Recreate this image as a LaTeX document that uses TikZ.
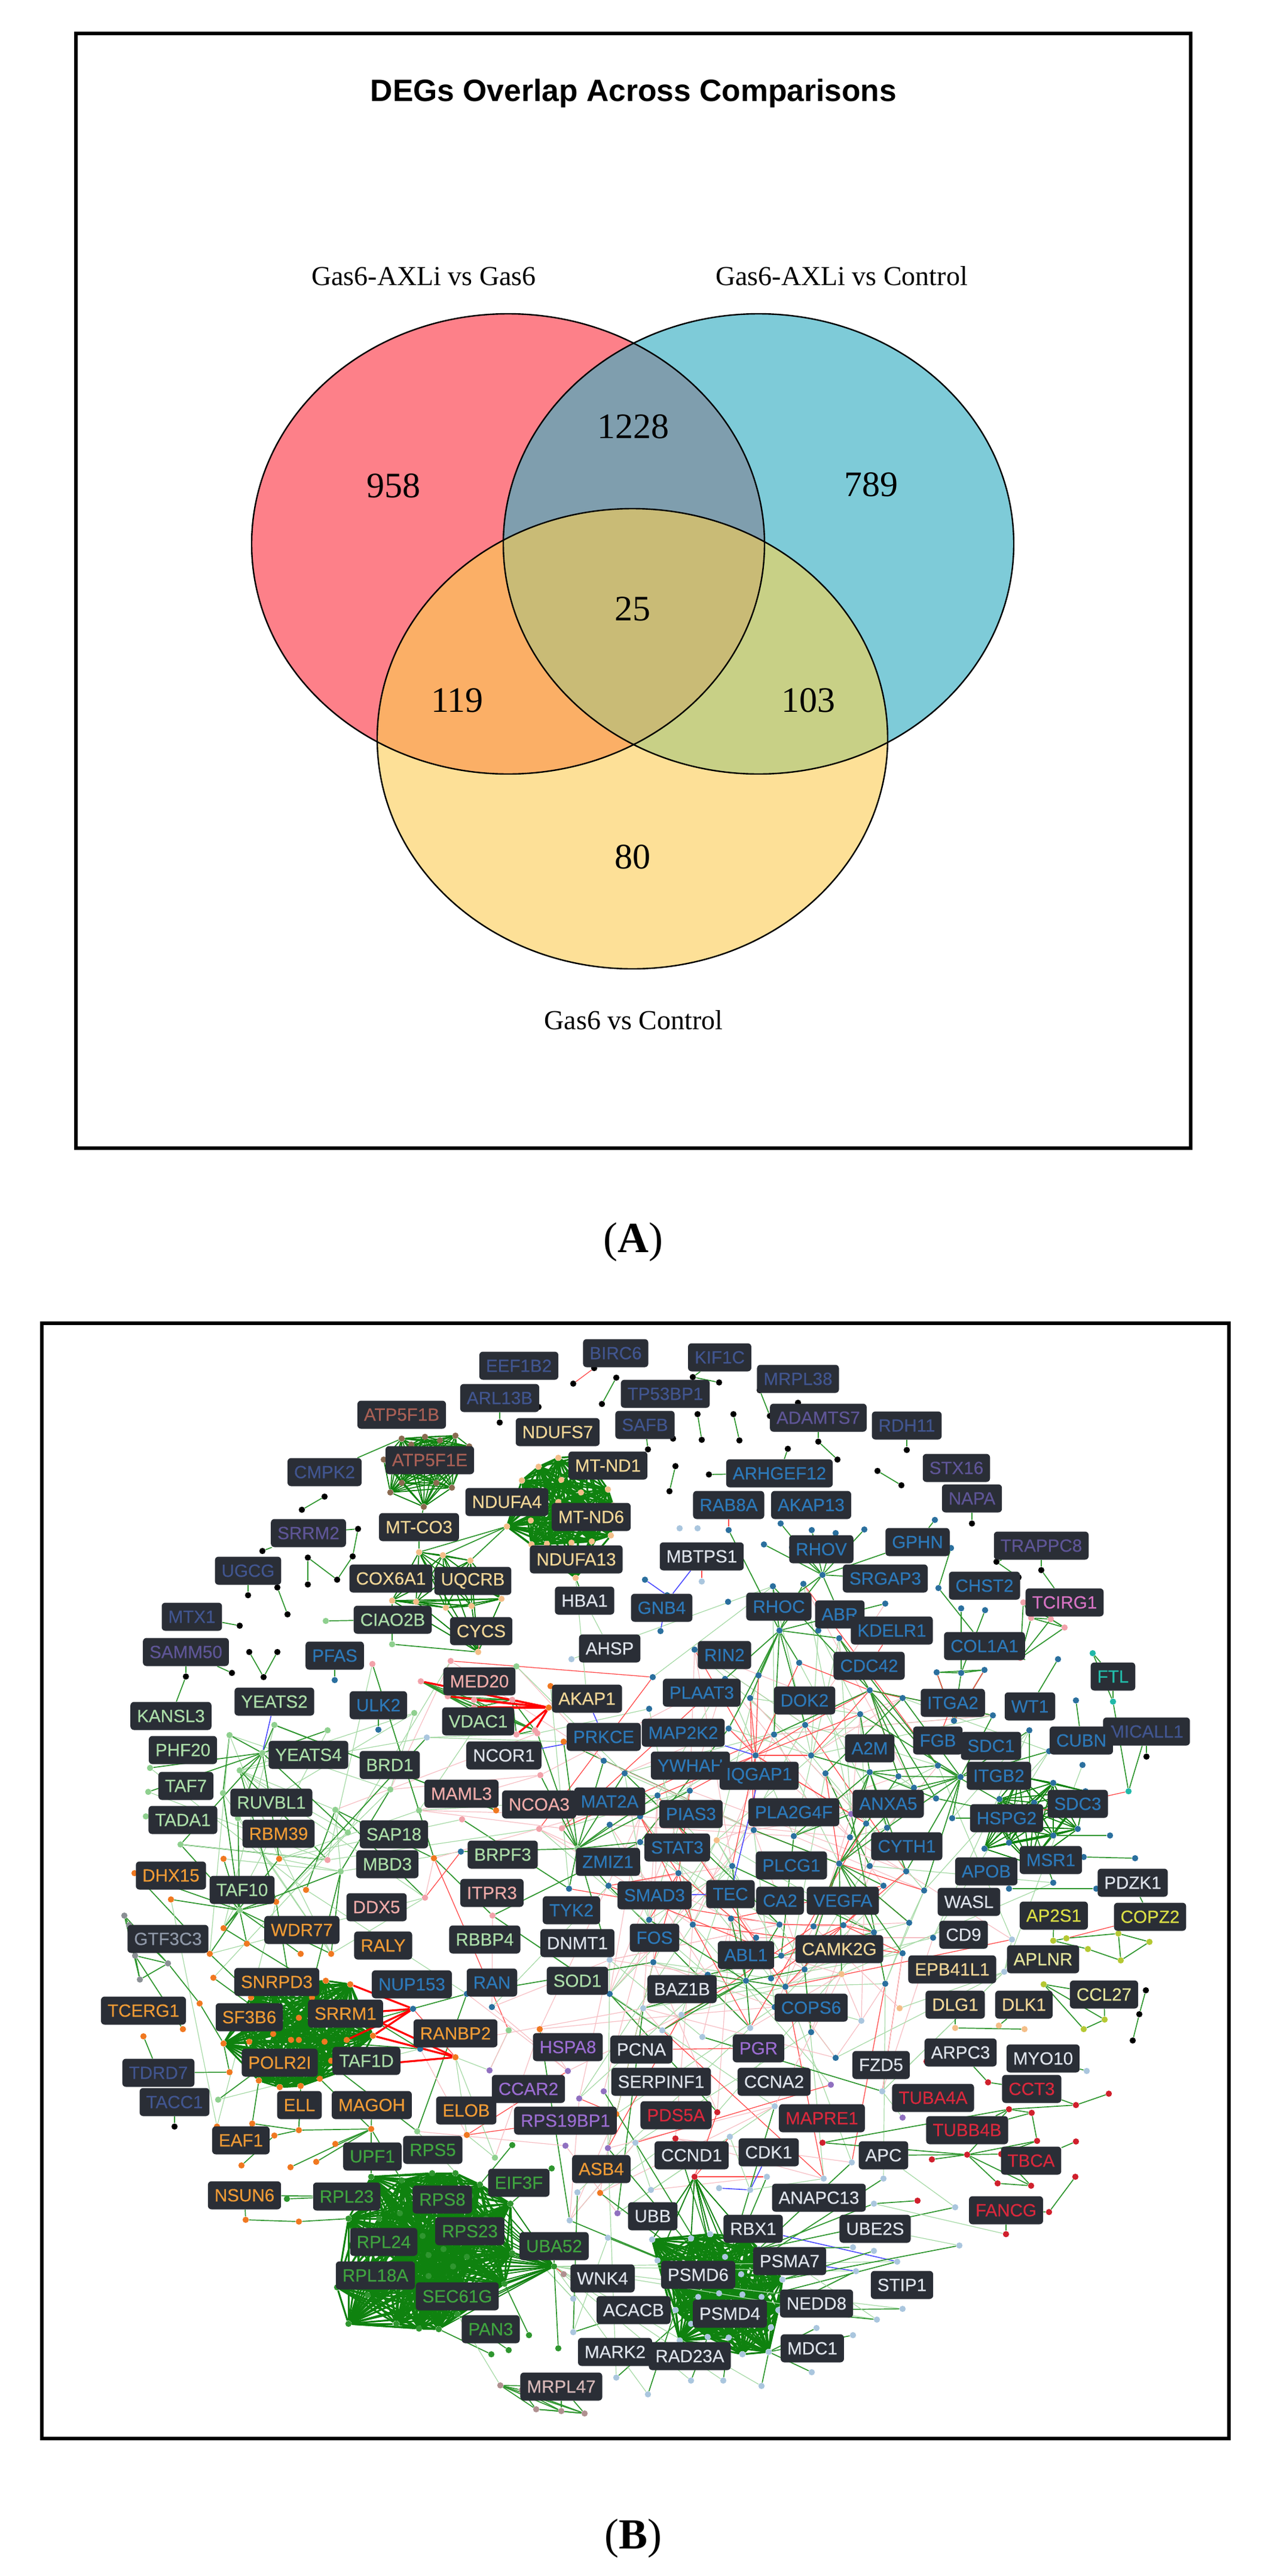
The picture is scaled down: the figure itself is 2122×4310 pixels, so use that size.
\documentclass[tikz,border=0pt]{standalone}
\usepackage{fontspec}
\setmainfont{Liberation Serif}
\newfontfamily\genef{Liberation Sans}
\newfontfamily\genelab[FakeBold=0.35]{Liberation Sans}
\pgfdeclarelayer{edges}
\pgfsetlayers{edges,main}
\definecolor{vR}{HTML}{FD8089}\definecolor{vB}{HTML}{7ECBD8}\definecolor{vY}{HTML}{FDE097}
\definecolor{vRB}{HTML}{7F9EAE}\definecolor{vRY}{HTML}{FBAF66}\definecolor{vBY}{HTML}{C8D086}\definecolor{vA}{HTML}{C9BB76}
\definecolor{box}{HTML}{2A2E36}
\definecolor{cS}{HTML}{41558F}\definecolor{cV}{HTML}{5E5596}\definecolor{cB}{HTML}{2C78B8}
\definecolor{cG}{HTML}{ABDDA8}\definecolor{cD}{HTML}{3FA33F}\definecolor{cO}{HTML}{EE9A35}
\definecolor{cT}{HTML}{F0D596}\definecolor{cP}{HTML}{EDAAA8}\definecolor{cU}{HTML}{9A6CD0}
\definecolor{cR}{HTML}{D8283C}\definecolor{cW}{HTML}{DDE2EA}\definecolor{cY}{HTML}{D9DD45}
\definecolor{cL}{HTML}{E4E49A}\definecolor{cM}{HTML}{A85F55}\definecolor{cE}{HTML}{22BDAA}
\definecolor{cF}{HTML}{D873C4}\definecolor{cQ}{HTML}{8F98A8}\definecolor{cK}{HTML}{D7B8B8}
\definecolor{dBl}{HTML}{2A6F9E}\definecolor{dLb}{HTML}{AAC6DE}\definecolor{dOr}{HTML}{F07820}
\definecolor{dPk}{HTML}{F2A2AA}\definecolor{dLg}{HTML}{8FD08F}\definecolor{dDg}{HTML}{2F962F}
\definecolor{dRd}{HTML}{D0202C}\definecolor{dPu}{HTML}{9070C0}\definecolor{dPe}{HTML}{F4BE88}
\definecolor{dBr}{HTML}{8A6A50}\definecolor{dGy}{HTML}{8A8F94}\definecolor{dYe}{HTML}{B5C832}
\definecolor{dTe}{HTML}{20B8A8}\definecolor{dRo}{HTML}{B09090}
\definecolor{dens}{HTML}{0F820F}
\tikzset{
  lab/.style={fill=box,rounded corners=3pt,inner xsep=5.5pt,inner ysep=0pt,minimum height=23.5pt,font=\genelab\fontsize{14.8}{16}\selectfont},
  dotn/.style={circle,inner sep=0pt,minimum size=5.2pt,draw=none},
  eg/.style={draw=dDg,line width=.85pt},
  el/.style={draw=dLg!80!white,line width=.6pt},
  ep/.style={draw=dPk!70!white,line width=.6pt},
  er/.style={draw=red!70!white,line width=.65pt},
  eb/.style={draw=blue!70!white,line width=.8pt},
  ec/.style={draw=dens,line width=.9pt},
  es/.style={draw=dens,line width=1.5pt},
  ew/.style={draw=red,line width=1.6pt},
  vtxt/.style={inner sep=0pt}
}
\def\gx#1#2{\the\numexpr #1+#2*1000/1568\relax}
\newcount\meshn \meshn=0
\newcommand\labels[3]{\foreach \t/\x/\y/\c in {#3}{\node[lab,text=\c] (\t) at (\gx{#1}{\x},\gx{#2}{\y}) {\t};}}
\newcommand\named[4]{\foreach \n/\x/\y in {#4}{\node[dotn,fill=#3] (\n) at (\gx{#1}{\x},\gx{#2}{\y}) {};}}
\newcommand\addm[5]{\global\advance\meshn 1
  \expandafter\xdef\csname mx\the\meshn\endcsname{\gx{#1}{#3}}%
  \expandafter\xdef\csname my\the\meshn\endcsname{\gx{#2}{#4}}%
  \node[dotn,fill=#5] (m\the\meshn) at (\csname mx\the\meshn\endcsname,\csname my\the\meshn\endcsname) {};}
\newcommand\mesh[4]{\foreach \x/\y in {#4}{\addm{#1}{#2}{\x}{\y}{#3}}}
\newcommand\hub[6]{\node[dotn,fill=#6] (#1) at (\gx{#2}{#4},\gx{#3}{#5}) {};
  \expandafter\xdef\csname hx#1\endcsname{\gx{#2}{#4}}\expandafter\xdef\csname hy#1\endcsname{\gx{#3}{#5}}}
\newcommand\cluster[5]{\foreach[count=\i] \x/\y in {#5}{\node[dotn,fill=#3] (#4\i) at (\gx{#1}{\x},\gx{#2}{\y}) {};}}
\newcommand\clique[3]{\foreach \a in {1,...,#2}{\foreach \b in {1,...,#2}{\ifnum\a<\b\relax\draw[#3] (#1\a) -- (#1\b);\fi}}}
\newcommand\fan[4]{\foreach \i in {1,...,\the\meshn}{%
  \ifnum\numexpr(\csname mx\i\endcsname-\csname hx#1\endcsname)*(\csname mx\i\endcsname-\csname hx#1\endcsname)+(\csname my\i\endcsname-\csname hy#1\endcsname)*(\csname my\i\endcsname-\csname hy#1\endcsname)\relax<\numexpr#2*#2\relax
    \pgfmathrandominteger{\rr}{1}{100}\ifnum\rr<#3\relax\draw[#4] (#1) -- (m\i);\fi
  \fi}}
\newcommand\edges[2]{\foreach \a/\b in {#2}{\draw[#1] (\a) -- (\b);}}
\begin{document}
\begin{tikzpicture}[x=.5pt,y=-.5pt]
\useasboundingbox (0,0) rectangle (2122,4310);
% ---------- panel A
\def\er{(850,910) ellipse [x radius=429,y radius=385]}
\def\eb{(1269,910) ellipse [x radius=427,y radius=385]}
\def\ey{(1058,1236) ellipse [x radius=427,y radius=385]}
\draw[line width=3pt] (127,56) rectangle (1992,1921);
\fill[vR] \er; \fill[vB] \eb; \fill[vY] \ey;
\begin{scope}\clip \er; \fill[vRB] \eb; \fill[vRY] \ey; \end{scope}
\begin{scope}\clip \eb; \fill[vBY] \ey; \end{scope}
\begin{scope}\clip \er; \clip \eb; \fill[vA] \ey; \end{scope}
\draw[line width=1.2pt] \er; \draw[line width=1.2pt] \eb; \draw[line width=1.2pt] \ey;
\node[vtxt,font=\genef\bfseries\fontsize{25.8}{28}\selectfont] (title) at (1060,156) {DEGs Overlap Across Comparisons};
\node[vtxt,font=\fontsize{23}{26}\selectfont] (s1) at (709,462) {Gas6-AXLi vs Gas6};
\node[vtxt,font=\fontsize{23}{26}\selectfont] (s2) at (1408,462) {Gas6-AXLi vs Control};
\node[vtxt,font=\fontsize{23}{26}\selectfont] (s3) at (1060,1707) {Gas6 vs Control};
\foreach \n/\x/\y/\t in {n1/658/813/958,n2/1059/714/1228,n3/1457/811/789,n4/1058/1019/25,n5/765/1172/119,n6/1352/1172/103,n7/1058/1434/80}
  {\node[vtxt,font=\fontsize{30}{32}\selectfont] (\n) at (\x,\y) {\t};}
\node[vtxt,font=\fontsize{36}{38}\selectfont] (capA) at (1059,2078) {(\textbf{A})};
\node[vtxt,font=\fontsize{36}{38}\selectfont] (capB) at (1059,4247) {(\textbf{B})};
% ---------- panel B frame
\draw[line width=3pt] (70,2214) rectangle (2056,4080);
% ---------- isolated black dots
\named{60}{2200}{black}{b1/1409/181,b2/1465/139,b3/1485/233,b4/1522/164,b5/1318/241,b6/1217/283,b7/697/511,b8/757/477,b9/845/561,b10/595/620,b11/831/634,b12/790/694,b13/714/637,b14/713/707,b15/557/736,b16/633/715,b17/660/785,b18/534/815,b19/514/940,b20/394/948,b21/560/884,b22/597/950,b23/634/884}
\named{1060}{2200}{black}{b24/155/163,b25/225/177,b26/167/261,b27/178/328,b28/262/261,b29/277/329,b30/104/325,b31/37/353,b32/110/396,b33/94/463,b34/197/418,b35/404/352,b36/331/197,b37/357/265,b38/431/231,b39/485/333,b40/535/380,b41/716/354,b42/639/410,b43/703/447,b44/887/547,b45/952/648,b46/1010/688,b47/1070/669,b48/1345/1158}
\named{1060}{3100}{black}{b49/1343/360,b50/1327/424,b51/1309/492}
\named{60}{3100}{black}{b52/363/718}
% ---------- dense clusters
\cluster{60}{2200}{dBr}{at}{960/325,1100/317,1137/345,912/379,1092/453,930/465,1017/503,1020/320,960/440,1050/440,1060/330,985/340,1110/400,935/410}
\cluster{60}{2200}{dPe}{nd}{1370/375,1318/398,1275/435,1235/555,1298/540,1378/432,1430/465,1500/458,1508/578,1458/595,1405/598,1300/602,1515/500,1370/490,1416/690,1440/370,1340/600,1480/530}
\cluster{60}{2200}{dPe}{cx}{1005/622,1068/630,1140/645,935/750,998/752,1075/768,1143/763,1222/745,1160/885}
\cluster{60}{2200}{dPk}{vc}{1010/961,1080/1000,1150/1010,1250/1010,1310/1090,1260/1100,1150/1030}
\cluster{60}{3100}{dOr}{sr}{565/380,725/380,760/335,825/345,690/432,885/480,670/490,623/475,560/495,757/495,815/490,775/545,745/592,695/612,640/615,585/597,492/500,530/440,840/560,650/540,850/420,620/350}
\cluster{60}{3100}{dDg}{rb}{820/960,790/1140,820/1235,945/1235,1005/1248,1057/1250,1105/1210,1245/920,1165/870,1100/840,1040/840,960/860,880/850,1250/1050,1230/1130,1015/1005,1030/1055,1095/1085,1030/1110,955/945,1130/1060,1070/1040,960/1080,900/960,1180/960,1140/900,1100/1170,870/1160}
\cluster{1060}{3100}{dLb}{pr}{48/1015,150/1012,200/1000,300/1010,62/1070,283/1105,225/1155,285/1158,335/1165,170/1165,110/1200,150/1235,195/1270,250/1272,355/1310,380/1200,360/1245,285/1315,100/1120,330/1040,390/1120,120/1280,240/1060}
\cluster{1060}{2200}{dBl}{hs}{960/1270,1100/1228,1185/1250,1165/1348,1100/1365,985/1385,960/1340,1050/1280,920/1400,1040/1440,1010/1210}
\cluster{60}{3100}{dRo}{mr}{1218/1397,1312/1460,1378/1465,1440/1470,1275/1410}
\cluster{60}{3100}{dGy}{gt}{232/165,260/270,347/290,273/333,245/190}
\cluster{1060}{2200}{dPk}{tc}{1023/754,1042/795,1130/820,1015/900,1095/798}
\cluster{1060}{2200}{dBl}{kk}{795/937,860/940,920/932,840/1065}
% ---------- named dots with explicit links
\named{1060}{2200}{dBl}{t1/385/547,t2/467/565,t3/530/572,t4/605/563,t5/342/602,t6/415/610,t7/790/538,t8/832/612,t9/800/716,t13/250/565,t14/1113/903,t15/1160/1012,t16/860/770,t17/922/775,t18/248/752,x1/1180/1422,x2/1315/1425,x3/1250/1365,x4/1213/1505,x5/985/1505,x6/30/695,x7/88/735}
\named{1060}{2200}{dLb}{t10/120/560,t11/168/560,t12/178/700}
\named{1060}{2200}{dTe}{f1/1205/888,f2/1258/1015,f3/1298/1250}
\named{1060}{3100}{dYe}{y1/1100/230,y2/1135/225,y3/1192/253,y4/1272/212,y5/1353/233,y6/1278/282,z1/1075/345,z2/1235/437,z3/1180/463}
\named{1060}{3100}{dRd}{e1/930/602,e2/1247/632,e3/1160/662,e4/985/672,e5/1045/682,e6/1058/755,e7/1160/758,e8/875/792,e9/782/805,e10/965/790,e11/955/867,e12/1043/873,e13/1159/850,e14/1090/942,e15/977/1001,e16/745/912,e17/495/760,e18/768/548}
\named{1060}{3100}{dPe}{g1/843/460,g2/1025/463,g3/958/453}
\named{1060}{3100}{dLb}{w1/150/1385,w2/235/1385,w3/335/1398,w4/38/1420,w5/692/1073,w6/583/1097,w7/705/1197,w8/638/1224,w9/480/1247,w10/575/1265,w11/467/1363,w12/855/1030,w13/843/930,w14/575/1035,w15/630/1045,w16/630/920,w17/225/880,w18/1188/573}
\named{60}{3100}{dOr}{o1/283/481,o2/385/462,o3/508/575,o4/550/963,o5/690/968,o6/567/710,o7/625/742,o8/690/728,o9/880/725,o10/785/763,o11/735/810,o12/668/825,o13/540/820,o14/430/395}
\named{60}{3100}{dDg}{q1/658/908,q2/1195/1315,q3/1240/1305,q4/1293/1265,q5/1370/1300,q6/1353/828,q7/1250/767}
\named{60}{2200}{dLg}{l1/760/803,l2/935/864}
\named{60}{2200}{dBl}{u1/784/958,u2/898/1088}
% ---------- hubs
\hub{rhv}{1060}{2200}{495}{682}{dBl}
\hub{rhc}{1060}{2200}{382}{828}{dBl}
\hub{cdh}{1060}{2200}{620}{985}{dBl}
\hub{iqh}{1060}{2200}{320}{1155}{dBl}
\hub{a2h}{1060}{2200}{620}{1200}{dBl}
\hub{ith}{1060}{2200}{858}{1212}{dBl}
\hub{sth}{1060}{2200}{117}{1465}{dBl}
\hub{anh}{1060}{2200}{540}{1440}{dBl}
\hub{gnh}{1060}{2200}{70}{830}{dBl}
\hub{hsh}{1060}{2200}{1040}{1320}{dBl}
\hub{yeh}{60}{2200}{595}{1150}{dLg}
\hub{zmh}{60}{2200}{1420}{1400}{dLg}
\hub{medh}{60}{2200}{1345}{1030}{dOr}
\hub{srh}{60}{3100}{690}{490}{dOr}
\hub{qh}{60}{3100}{990}{410}{dBl}
\hub{rah}{60}{3100}{1100}{537}{dOr}
\hub{rbh}{60}{3100}{1360}{1085}{dDg}
\hub{wkh}{60}{3100}{1385}{1105}{dRo}
\hub{prh}{1060}{3100}{230}{1130}{dLb}
\hub{abh}{1060}{3100}{295}{335}{dBl}
\hub{vgh}{1060}{3100}{550}{190}{dBl}
\hub{cch}{1060}{3100}{160}{850}{dRd}
\hub{rbx}{1060}{3100}{305}{885}{dLb}
\hub{tfh}{60}{3100}{535}{150}{dLg}
% ---------- mesh dots
\mesh{60}{2200}{dLg}{508/1102,625/1075,765/1090,535/1195,300/1188,295/1252,288/1315,490/1255,380/1390,530/1320,785/1298,818/1358,930/1245,1005/1300,993/1045,1260/922,800/1460}
\mesh{60}{2200}{dPk}{882/915,1088/908,1315/1097,1324/1207,1118/1324,1320/1348,1380/1347,765/1430}
\mesh{60}{2200}{dOr}{1350/973,1385/1120,1208/1300,1045/1425,493/1427,638/1427,258/1465,355/1533,708/1508,630/1540}
\mesh{60}{2200}{dBl}{1115/1408,1490/1170,1545/1202,1505/1338,1398/1505,1502/1497}
\mesh{60}{2200}{dLb}{1025/1108,1405/903}
\mesh{1060}{2200}{dBl}{365/712,445/705,660/757,540/848,485/828,435/912,160/878,50/950,40/1033,305/1005,328/945,240/955,250/1085,368/1100,450/1075,465/1155,503/1203,62/1260,148/1248,18/1315,18/1383,315/1352,420/1368,258/1445,705/1005,595/1047,942/1050,1038/1090,1090/1145,1177/1180,798/1182,695/1210,735/1240,793/1268,835/1320,610/1335,665/1345,568/1370,620/1445,715/1460,655/1498,762/1510,1100/1490}
\mesh{1060}{2200}{dPu}{570/1310}
\mesh{1060}{2200}{dPe}{218/1378}
\mesh{60}{3100}{dOr}{493/198,553/238,456/265,465/328,775/265,695/265,475/718,1130/740,1322/463,1480/892,1522/685}
\mesh{60}{3100}{dPk}{1020/118,1198/165}
\mesh{60}{3100}{dBl}{1505/370,1197/405,1130/370,1008/515}
\mesh{60}{3100}{dPu}{1395/573,1490/625,1390/768,1425/645,1190/570,1500/775,1525/945}
\mesh{60}{3100}{dLg}{1240/465,1205/800,478/648,1000/730}
\mesh{60}{3100}{dLb}{1420/890,1400/965,1500/1010,1410/1170,1410/1257,1522/1377,1505/280}
\mesh{1060}{3100}{dBl}{155/188,255/172,40/175,322/222,383/188,472/193,630/208,785/222,723/183,705/263,388/270,52/287,360/330,398/352,195/320,448/305,660/343,370/405,465/470,530/538}
\mesh{1060}{3100}{dLb}{993/227,972/312,25/408,125/425,75/465,180/483,305/460,598/440,652/625,370/665,253/745,5/760,573/812,655/855,498/855,350/850,45/885}
\mesh{1060}{3100}{dPe}{545/318,697/407}
\mesh{1060}{3100}{dPu}{518/608,705/695}
\mesh{1060}{3100}{dRd}{220/680,110/750}
% ---------- gene labels
\labels{60}{2200}{EEF1B2/1267/133/cS,BIRC6/1521/100/cS,ARL13B/1217/218/cS,ATP5F1B/960/262/cM,ATP5F1E/1033/381/cM,CMPK2/757/412/cS,NDUFS7/1369/308/cT,MT-ND1/1500/395/cT,NDUFA4/1236/491/cT,MT-ND6/1456/530/cT,NDUFA13/1418/641/cT,MT-CO3/1005/556/cT,COX6A1/932/692/cT,UQCRB/1146/697/cT,SRRM2/715/572/cV,UGCG/557/671/cS,HBA1/1440/749/cW,CIAO2B/936/800/cG,CYCS/1168/829/cT,MTX1/410/792/cS,SAMM50/393/885/cV,PFAS/784/893/cB,AHSP/1505/875/cW,MED20/1164/961/cP,AKAP1/1445/1006/cT,YEATS2/625/1014/cG,ULK2/899/1024/cB,KANSL3/355/1052/cG,VDAC1/1160/1067/cG,PRKCE/1490/1107/cB,PHF20/386/1142/cG,YEATS4/715/1154/cG,BRD1/928/1181/cG,NCOR1/1228/1155/cW,TAF7/393/1236/cG,MAML3/1117/1256/cP,RUVBL1/618/1280/cG,NCOA3/1320/1284/cP,MAT2A/1505/1276/cB,TADA1/385/1325/cG,RBM39/637/1361/cO,SAP18/940/1362/cG,BRPF3/1224/1416/cG,MBD3/922/1441/cG,ZMIZ1/1500/1435/cB,DHX15/355/1471/cO,TAF10/541/1509/cG,ITPR3/1196/1516/cP}
\labels{1060}{2200}{KIF1C/226/111/cS,MRPL38/431/168/cS,TP53BP1/83/207/cS,SAFB/30/288/cS,ADAMTS7/484/269/cV,RDH11/716/290/cS,STX16/847/402/cV,ARHGEF12/382/416/cB,NAPA/887/482/cV,RAB8A/250/498/cB,AKAP13/466/499/cB,TRAPPC8/1070/605/cV,GPHN/745/596/cB,RHOV/492/615/cB,MBTPS1/179/634/cW,SRGAP3/660/691/cB,CHST2/921/710/cB,TCIRG1/1131/754/cF,RHOC/381/765/cB,GNB4/73/768/cB,ABR/541/785/cB,KDELR1/678/828/cB,COL1A1/921/868/cB,RIN2/239/892/cB,CDC42/618/921/cB,FTL/1257/948/cE,PLAAT3/179/991/cB,DOK2/449/1012/cB,ITGA2/837/1018/cB,WT1/1039/1027/cB,MAP2K2/130/1096/cB,MICALL1/1345/1093/cS,CUBN/1175/1117/cB,FGB/798/1117/cB,A2M/619/1137/cB,SDC1/938/1130/cB,YWHAH/149/1183/cB,IQGAP1/329/1209/cB,ITGB2/958/1209/cB,ANXA5/668/1282/cB,SDC3/1165/1283/cB,PIAS3/150/1310/cB,PLA2G4F/420/1304/cB,HSPG2/979/1320/cB,STAT3/114/1397/cB,CYTH1/716/1394/cB,MSR1/1095/1430/cB,PLCG1/414/1444/cB,APOB/925/1460/cB,PDZK1/1309/1490/cW,SMAD3/55/1522/cB,TEC/254/1520/cB,CA2/384/1537/cB,VEGFA/549/1537/cB,WASL/880/1540/cW}
\labels{60}{3100}{DDX5/893/143/cP,TYK2/1405/150/cB,WDR77/697/202/cO,GTF3C3/347/226/cQ,RBBP4/1178/228/cG,DNMT1/1420/237/cW,RALY/911/243/cO,SOD1/1421/336/cG,RAN/1197/340/cB,NUP153/987/345/cB,SNRPD3/632/339/cO,TCERG1/283/414/cO,SRRM1/813/422/cO,SF3B6/560/431/cO,RANBP2/1100/473/cO,HSPA8/1396/510/cU,TAF1D/867/545/cG,POLR2I/640/551/cO,TDRD7/322/577/cS,CCAR2/1292/619/cU,TACC1/363/654/cS,ELL/691/662/cO,MAGOH/881/662/cO,ELOB/1129/676/cO,RPS19BP1/1390/703/cU,EAF1/538/754/cO,RPS5/1041/779/cD,UPF1/882/796/cD,ASB4/1483/829/cO,EIF3F/1267/865/cD,NSUN6/548/898/cO,RPL23/815/901/cD,RPS8/1067/910/cD,RPS23/1139/993/cD,RPL24/912/1020/cD,UBA52/1360/1032/cD,RPL18A/890/1108/cD,WNK4/1486/1116/cW,SEC61G/1106/1163/cD,ACACB/1568/1200/cW,PAN3/1194/1249/cD,MARK2/1520/1310/cW,MRPL47/1379/1400/cK}
\labels{1060}{3100}{AP2S1/1102/165/cY,COPZ2/1354/168/cY,CD9/865/215/cW,FOS/55/222/cB,CAMK2G/540/252/cT,ABL1/294/268/cB,APLNR/1074/279/cL,EPB41L1/836/306/cT,BAZ1B/127/358/cW,CCL27/1234/372/cL,DLG1/844/399/cT,DLK1/1024/399/cT,COPS6/466/406/cB,ARPC3/857/524/cW,MYO10/1074/539/cW,PCNA/20/516/cW,PGR/327/513/cU,FZD5/649/557/cW,SERPINF1/72/600/cW,CCNA2/369/600/cW,CCT3/1044/620/cR,TUBA4A/785/643/cR,PDS5A/112/689/cR,MAPRE1/494/696/cR,TUBB4B/875/728/cR,CCND1/152/794/cW,CDK1/355/785/cW,APC/655/793/cW,TBCA/1042/808/cR,ANAPC13/486/904/cW,FANCG/977/937/cR,UBB/50/953/cW,RBX1/314/986/cW,UBE2S/634/986/cW,PSMA7/409/1071/cW,PSMD6/169/1107/cW,STIP1/704/1134/cW,NEDD8/480/1182/cW,PSMD4/253/1209/cW,MDC1/469/1300/cW,RAD23A/148/1320/cW}
% ---------- connectors
\begin{pgfonlayer}{edges}
\pgfmathsetseed{20240}
\foreach \i in {1,...,\the\meshn}{\foreach \k in {1,2,3,4,5,6,7}{%
  \pgfmathrandominteger{\j}{1}{\the\meshn}%
  \edef\dx{\the\numexpr\csname mx\i\endcsname-\csname mx\j\endcsname\relax}%
  \edef\dy{\the\numexpr\csname my\i\endcsname-\csname my\j\endcsname\relax}%
  \edef\mdx{\the\numexpr(\csname mx\i\endcsname+\csname mx\j\endcsname)/2\relax}%
  \edef\mdy{\the\numexpr(\csname my\i\endcsname+\csname my\j\endcsname)/2\relax}%
  \ifnum\numexpr\dx*\dx+\dy*\dy\relax<160000
    \pgfmathrandominteger{\rr}{1}{100}%
    \def\sty{el}%
    \ifnum\mdx>700 \ifnum\mdx<1560 \ifnum\mdy>2650 \ifnum\mdy<3750
      \ifnum\rr<42 \def\sty{ep}\else\ifnum\rr<52 \def\sty{er}\else\ifnum\rr<90 \def\sty{el}\else\def\sty{eg}\fi\fi\fi
    \fi\fi\fi\fi
    \ifnum\mdx<700 \ifnum\rr<30 \def\sty{eg}\fi\fi
    \ifnum\mdy>3750 \ifnum\rr<30 \def\sty{eg}\fi\fi
    \draw[\sty] (m\i) -- (m\j);
  \fi}}
% fans
\fan{rhc}{190}{90}{eg}
\fan{cdh}{230}{45}{er}
\fan{cdh}{260}{30}{eg}
\fan{iqh}{220}{40}{er}
\fan{a2h}{190}{60}{eg}
\fan{ith}{200}{60}{eg}
\fan{sth}{180}{45}{er}
\fan{anh}{170}{40}{er}
\fan{anh}{190}{55}{eg}
\fan{yeh}{220}{90}{eg}
\fan{zmh}{220}{70}{eg}
\fan{abh}{200}{50}{eg}
\fan{vgh}{170}{40}{er}
\fan{cch}{150}{40}{er}
\fan{srh}{300}{55}{eg}
\fan{tfh}{200}{50}{eg}
\fan{prh}{330}{40}{eg}
\fan{rbx}{140}{50}{el}
\fan{gnh}{130}{50}{ep}
\fan{hsh}{180}{50}{eg}
\fan{rah}{260}{40}{el}
% black pairs
\edges{er}{b1/b2}
\edges{eg}{b3/b4,ARL13B/b5,ARL13B/b6,b7/b8,SRRM2/b9,b10/SRRM2,b9/b11,b11/b12,b12/b13,b13/b14,UGCG/b15,b16/b17,MTX1/b18,SAMM50/b19,b20/SAMM50,b20/KANSL3,b21/b22,b22/b23,b24/b25,KIF1C/b24,b26/b27,b28/b29,SAFB/b30,SAFB/b31,b32/b33,b34/ARHGEF12,b35/ARHGEF12,b36/b37,ADAMTS7/b38,b39/b40,b39/ADAMTS7,RDH11/b41,b42/b43,NAPA/b44,b45/b46,TRAPPC8/b45,TRAPPC8/b47,b47/TCIRG1,MICALL1/b48,b49/b50,b50/b51,TACC1/b52}
% dense cliques
\clique{at}{14}{ec}
\clique{nd}{18}{es}
\clique{cx}{9}{ec}
\clique{vc}{7}{eg}
\clique{sr}{22}{es}
\clique{rb}{28}{es}
\clique{pr}{23}{es}
\clique{hs}{11}{ec}
\clique{mr}{5}{eg}
\clique{gt}{5}{eg}
\clique{tc}{5}{eg}
\clique{kk}{4}{eg}
\foreach \i in {1,...,28}{\draw[ec] (rbh) -- (rb\i);}
\foreach \i in {1,...,8}{\draw[ec] (cch) -- (pr\i);}
\foreach \i in {1,...,7}{\draw[ew] (medh) -- (vc\i);}
\foreach \w in {1,...,8}{\draw[el] (rbh) -- (w\w);}
\edges{ew}{qh/sr4,qh/sr6,qh/sr11,qh/sr21,rah/sr6,rah/sr19,rah/sr21}
\edges{er}{qh/rah,cx9/CYCS,wkh/rbh,KDELR1/CDC42,ITGA2/FGB,kk1/kk4,kk3/kk4,t13/RAB8A,t12/MBTPS1,f3/HSPG2,COPZ2/y2,PCNA/PGR}
\edges{eb}{iqh/MAP2K2,x6/x7,x7/gnh,rbx/w17,rbx/CDK1,YEATS2/yeh,w5/RBX1,w6/PSMA7,NCOR1/PRKCE,AKAP1/PRKCE,MBTPS1/GNB4,IQGAP1/TEC,SMAD3/TEC}
\edges{eg}{CMPK2/at1,at7/MT-CO3,nd4/cx1,nd4/cx2,nd4/cx3,MT-CO3/cx1,cx4/l2,l2/cx9,l1/CIAO2B,PFAS/u1,ULK2/u2,nd15/HBA1,t1/rhv,t2/rhv,t3/rhv,t4/rhv,t5/rhv,t6/rhv,GPHN/rhv,SRGAP3/rhv,ABR/rhv,RHOC/rhv,t13/rhc,t7/GPHN,t8/t9,t9/COL1A1,rhv/rhc,t16/kk2,t17/kk2,tc4/COL1A1,t14/WT1,t15/CUBN,f1/f2,f2/f3,FTL/f1,FTL/f2,MICALL1/f3,x1/x2,x3/hs5,x5/x4,x4/PDZK1,COPZ2/PDZK1,y1/y3,y3/y6,y6/y4,y4/y5,y5/y6,y2/y4,y1/y2,AP2S1/y1,z1/CCL27,z1/z2,z1/z3,z2/z3,CCL27/z2,g1/g2,g1/DLG1,g3/DLK1,e2/e3,e3/e4,e4/e5,e4/e8,e5/e6,e6/e8,e8/e10,e8/e11,e11/e12,e12/e10,e8/e12,e6/e10,e4/TUBB4B,e9/e8,e17/e8,e17/e4,e7/TBCA,e13/e14,e14/FANCG,FANCG/e15,e3/CCT3,e1/CCT3,ARPC3/e1,APC/e8,w16/e16,MYO10/w18,e5/TUBB4B,o1/TDRD7,TDRD7/o3,o2/gt2,o14/gt3,o14/sr17,o3/sr17,EAF1/o6,o6/o8,o8/o9,o7/o8,o6/sr16,o8/sr14,o13/o7,o12/o9,o11/o9,o10/o9,o9/sr13,o9/rb13,o9/rb12,ELL/o8,MAGOH/o9,o4/o5,NSUN6/o4,o5/rb1,q1/RPL23,NSUN6/RPL23,q2/rb6,q3/rb7,q4/rb15,q5/rbh,q6/rb8,q7/rb9,rbh/UBA52,mr1/MRPL47,mr3/MRPL47,mr4/MRPL47,w1/pr13,w2/pr14,w3/pr15,w4/pr11,w5/pr9,w6/pr16,w7/pr16,w8/pr16,w9/pr15,w10/pr15,w11/pr15,w12/pr21,w13/pr20,w14/pr20,w15/pr21,w16/pr20}
\edges{el}{mr1/rb7,w13/APC,e15/w16,w12/UBE2S,nd15/AKAP1,HBA1/AHSP,PSMA7/w8}
\end{pgfonlayer}
\end{tikzpicture}
\end{document}
